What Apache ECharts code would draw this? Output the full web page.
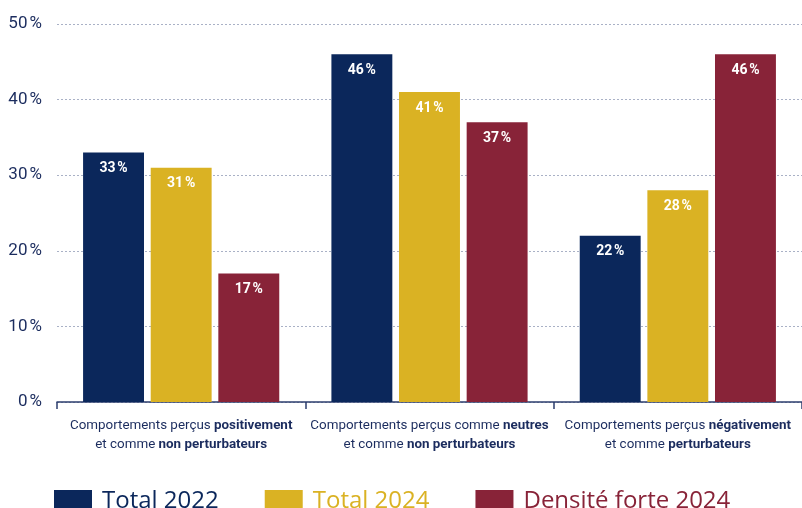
<!DOCTYPE html>
<html><head><meta charset="utf-8">
<script src="https://cdn.jsdelivr.net/npm/echarts@6/dist/echarts.min.js"></script>
<style>html,body{margin:0;padding:0;background:#fff}#c{width:802px;height:508px}</style>
</head><body><div id="c"></div>
<script>
const categories = [
  ['Comportements perçus ', 'positivement', '', 'et comme ', 'non perturbateurs'],
  ['Comportements perçus comme ', 'neutres', '', 'et comme ', 'non perturbateurs'],
  ['Comportements perçus ', 'négativement', '', 'et comme ', 'perturbateurs']
];
const seriesNames = ['Total 2022', 'Total 2024', 'Densité forte 2024'];
const total2022 = [33, 46, 22];
const total2024 = [31, 41, 28];
const densite2024 = [17, 37, 46];
const yTicks = [0, 10, 20, 30, 40, 50];
const colors = ['#0b275b', '#dab223', '#882338'];
const FONT = '"Roboto", sans-serif';

const catLabels = categories.map(c => '{n|' + c[0] + '}{b|' + c[1] + '}\n{n|' + c[3] + '}{b|' + c[4] + '}');

const chart = echarts.init(document.getElementById('c'), null, {renderer: 'canvas'});
const mk = (name, data, i) => ({
  name, type: 'bar', data,
  barGap: '11%', barCategoryGap: '21%',
  itemStyle: {color: colors[i]},
  label: {show: true, position: 'insideTop', distance: 9, color: '#fff',
    fontFamily: FONT, fontWeight: 'bold', fontSize: 14,
    formatter: p => p.value + '\u202f%'}
});
chart.setOption({
  animation: false,
  grid: {left: 57, right: -4, top: 24, height: 378},
  legend: {
    left: 49, top: 484, itemWidth: 38, itemHeight: 22, itemGap: 46,
    icon: 'rect',
    data: seriesNames.map((n, i) => ({name: n, textStyle: {color: colors[i]}})),
    textStyle: {fontFamily: '"Open Sans", sans-serif', fontSize: 24, padding: [0, 0, 0, 5]}
  },
  xAxis: {
    type: 'category', data: catLabels,
    axisLine: {lineStyle: {color: '#2c3e6e', width: 1.5}},
    axisTick: {show: true, length: 7, lineStyle: {color: '#2c3e6e', width: 1.5}},
    axisLabel: {
      margin: 14, interval: 0,
      rich: {
        n: {fontFamily: FONT, fontSize: 13.4, color: '#1b2c5e', lineHeight: 19},
        b: {fontFamily: FONT, fontSize: 13.4, fontWeight: 'bold', color: '#1b2c5e', lineHeight: 19}
      }
    }
  },
  yAxis: {
    type: 'value', min: yTicks[0], max: yTicks[yTicks.length - 1], interval: 10,
    axisLine: {show: false}, axisTick: {show: false},
    splitLine: {lineStyle: {color: '#a9b1c6', type: [2, 2], width: 1}},
    axisLabel: {margin: 15, fontFamily: FONT, fontSize: 17, color: '#1b2c5e',
      formatter: v => v + '\u202f%'}
  },
  series: [mk(seriesNames[0], total2022, 0), mk(seriesNames[1], total2024, 1), mk(seriesNames[2], densite2024, 2)]
});
</script></body></html>
